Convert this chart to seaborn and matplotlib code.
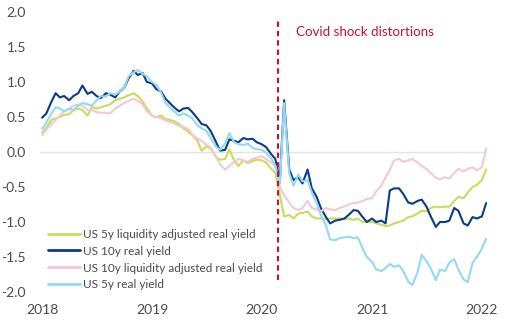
import numpy as np
import pandas as pd
import matplotlib
matplotlib.use("Agg")
import matplotlib.pyplot as plt
import seaborn as sns

# ---- data (semi-monthly readings, Jan 2018 - Jan 2022) ----
dates = pd.date_range("2018-01-01", periods=98, freq="SMS")

us5_liq = [0.27, 0.35, 0.46, 0.48, 0.50, 0.53, 0.54, 0.60, 0.62, 0.60,
           0.52, 0.64, 0.62, 0.64, 0.66, 0.68, 0.74, 0.76, 0.78, 0.81,
           0.84, 0.80, 0.72, 0.62, 0.52, 0.50, 0.52, 0.47, 0.46, 0.44,
           0.40, 0.34, 0.29, 0.24, 0.16, 0.02, 0.08, 0.05, -0.07, -0.11,
           -0.10, 0.04, -0.12, -0.20, -0.12, -0.16, -0.13, -0.11, -0.12, -0.15,
           -0.24, -0.30, -0.62, -0.92, -0.90, -0.95, -0.88, -0.87, -0.85, -0.92,
           -0.95, -0.95, -0.96, -0.95, -0.95, -0.95, -0.96, -0.95, -0.97, -0.95,
           -1.00, -1.00, -1.00, -1.02, -1.04, -1.06, -1.05, -1.02, -1.00, -0.98,
           -0.93, -0.92, -0.88, -0.84, -0.85, -0.80, -0.78, -0.79, -0.78, -0.78,
           -0.70, -0.64, -0.66, -0.58, -0.50, -0.47, -0.40, -0.25]

us10_real = [0.49, 0.55, 0.72, 0.84, 0.78, 0.80, 0.74, 0.80, 0.84, 0.95,
             0.83, 0.86, 0.80, 0.77, 0.84, 0.82, 0.78, 0.86, 0.92, 1.05,
             1.16, 1.10, 1.13, 1.00, 0.98, 0.90, 0.86, 0.76, 0.70, 0.64,
             0.58, 0.62, 0.63, 0.57, 0.48, 0.40, 0.38, 0.30, 0.15, 0.02,
             0.03, 0.18, 0.16, 0.14, 0.20, 0.18, 0.19, 0.14, 0.11, 0.07,
             -0.03, -0.10, -0.40, 0.74, -0.25, -0.40, -0.36, -0.45, -0.25, -0.52,
             -0.64, -0.80, -0.93, -1.02, -0.98, -0.97, -0.95, -0.90, -0.83, -0.84,
             -0.93, -1.00, -0.95, -1.00, -0.98, -1.02, -0.55, -0.52, -0.52, -0.60,
             -0.72, -0.74, -0.70, -0.68, -0.78, -0.92, -1.07, -1.00, -1.00, -0.98,
             -0.80, -0.84, -1.02, -1.05, -0.93, -0.95, -0.92, -0.73]

us10_liq = [0.24, 0.32, 0.40, 0.46, 0.52, 0.58, 0.62, 0.66, 0.68, 0.66,
            0.60, 0.60, 0.57, 0.56, 0.56, 0.55, 0.62, 0.66, 0.70, 0.73,
            0.76, 0.73, 0.68, 0.58, 0.52, 0.50, 0.48, 0.45, 0.43, 0.41,
            0.37, 0.36, 0.33, 0.25, 0.19, 0.16, 0.10, 0.07, -0.06, -0.18,
            -0.25, -0.20, -0.14, -0.10, -0.12, -0.14, -0.10, -0.08, -0.06, -0.10,
            -0.15, -0.20, -0.50, -0.62, -0.72, -0.80, -0.83, -0.80, -0.70, -0.80,
            -0.82, -0.85, -0.80, -0.82, -0.83, -0.80, -0.78, -0.75, -0.73, -0.72,
            -0.70, -0.67, -0.66, -0.56, -0.48, -0.36, -0.26, -0.12, -0.10, -0.14,
            -0.12, -0.10, -0.15, -0.20, -0.24, -0.30, -0.37, -0.39, -0.36, -0.38,
            -0.30, -0.24, -0.28, -0.24, -0.22, -0.26, -0.22, 0.05]

us5_real = [0.33, 0.42, 0.55, 0.64, 0.62, 0.58, 0.62, 0.60, 0.66, 0.70,
            0.68, 0.66, 0.74, 0.80, 0.79, 0.84, 0.82, 0.86, 0.92, 1.08,
            1.14, 1.17, 1.12, 1.08, 1.00, 0.96, 0.84, 0.70, 0.64, 0.58,
            0.52, 0.55, 0.52, 0.48, 0.38, 0.34, 0.30, 0.20, 0.08, 0.03,
            0.12, 0.27, 0.14, 0.11, 0.10, 0.12, 0.06, 0.04, 0.03, -0.01,
            -0.09, -0.20, -0.45, 0.70, -0.30, -0.48, -0.32, -0.42, -0.40, -0.58,
            -0.73, -0.90, -1.05, -1.25, -1.26, -1.23, -1.22, -1.21, -1.23, -1.22,
            -1.38, -1.50, -1.57, -1.68, -1.70, -1.66, -1.60, -1.64, -1.62, -1.70,
            -1.85, -1.90, -1.72, -1.47, -1.56, -1.66, -1.83, -1.68, -1.70, -1.58,
            -1.53, -1.68, -1.82, -1.86, -1.58, -1.50, -1.38, -1.24]

series_names = ["US 5y liquidity adjusted real yield", "US 10y real yield",
                "US 10y liquidity adjusted real yield", "US 5y real yield"]
series_colors = ["#c8dc5c", "#0a3b85", "#f2c8d3", "#93d8f8"]

year_ticks = ["2018", "2019", "2020", "2021", "2022"]
y_ticks = [-2.0, -1.5, -1.0, -0.5, 0.0, 0.5, 1.0, 1.5, 2.0]

covid_date = pd.Timestamp("2020-02-24")
covid_span = (-1.83, 1.91)
covid_label = "Covid shock distortions"
covid_label_pos = (pd.Timestamp("2020-04-22"), 1.71)

# ---- build long table ----
frames = []
for name, vals in zip(series_names, [us5_liq, us10_real, us10_liq, us5_real]):
    frames.append(pd.DataFrame({"date": dates, "value": vals, "series": name}))
df = pd.concat(frames, ignore_index=True)

sns.set_style("white")
plt.rcParams["font.family"] = ["Lato", "DejaVu Sans"]
plt.rcParams["axes.unicode_minus"] = False

fig = plt.figure(figsize=(5.05, 3.22), dpi=100)
ax = fig.add_axes([40 / 505, 1 - 292 / 322, 447 / 505, 280 / 322])

ax.axhline(0, color="#e3e3e3", lw=1.0, zorder=0)

sns.lineplot(data=df, x="date", y="value", hue="series", hue_order=series_names,
             palette=series_colors, linewidth=1.5, ax=ax, legend=True)

ax.vlines(covid_date, covid_span[0], covid_span[1], colors="#c8102e",
          linestyles=(0, (2.6, 1.9)), linewidth=1.5, zorder=5)
ax.text(covid_label_pos[0], covid_label_pos[1], covid_label, color="#c8102e",
        fontsize=9.6, va="center", ha="left", fontweight="normal")

ax.set_xlim(pd.Timestamp("2017-12-25"), pd.Timestamp("2022-01-18"))
ax.set_ylim(-2.0, 2.0)
ax.set_yticks(y_ticks)
ax.set_yticklabels([f"{v:.1f}" for v in y_ticks])
ax.set_xticks([pd.Timestamp(f"{y}-01-01") for y in year_ticks])
ax.set_xticklabels(year_ticks)
ax.tick_params(axis="both", length=0, labelsize=10, labelcolor="#4a4a4a")
ax.tick_params(axis="y", pad=10)
ax.tick_params(axis="x", pad=9)
ax.set_xlabel("")
ax.set_ylabel("")
for s in ax.spines.values():
    s.set_visible(False)

handles, labels = ax.get_legend_handles_labels()
leg = ax.legend(handles, labels, loc="upper left", bbox_to_anchor=(8 / 447, 0.226),
                frameon=False, fontsize=8.5, handlelength=2.7, handletextpad=0.3,
                labelspacing=0.5, borderaxespad=0, borderpad=0)
for t in leg.get_texts():
    t.set_color("#4a4a4a")
for l in leg.get_lines():
    l.set_linewidth(2.0)

fig.savefig("out.png", dpi=100)
